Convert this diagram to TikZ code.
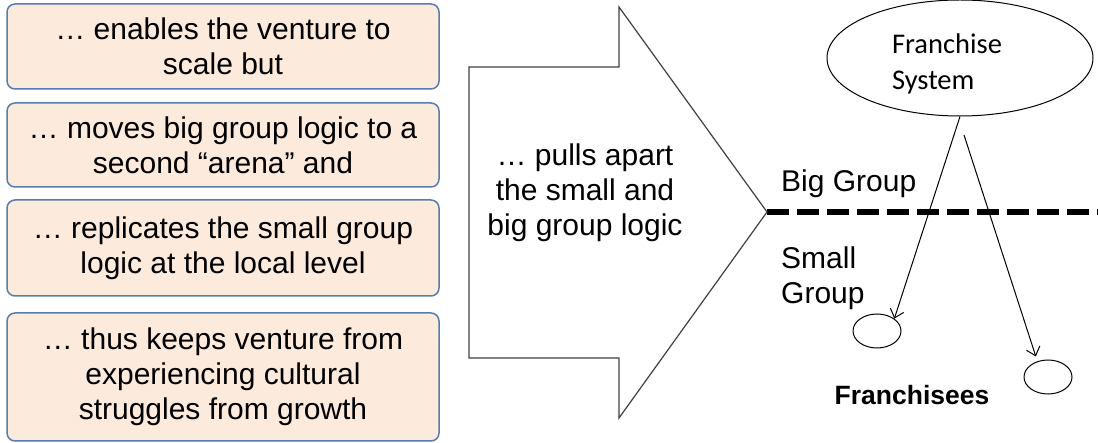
\documentclass[tikz,border=0pt]{standalone}
\usepackage{fontspec}
\setmainfont{Liberation Sans}
\newfontfamily\calibri{Carlito}
\usetikzlibrary{shapes.geometric,arrows.meta}
\definecolor{boxfill}{RGB}{252,234,220}
\definecolor{boxline}{RGB}{88,125,172}

\begin{document}
\begin{tikzpicture}[
    x = 1pt, y = -1pt,
    reason/.style = {draw = boxline, fill = boxfill, line width = 1.5pt,
        rounded corners = 8pt, minimum width = 432pt, inner sep = 0pt,
        align = center, font = \fontsize{30}{35}\selectfont},
    group label/.style = {inner sep = 0pt, align = left,
        font = \fontsize{30}{35}\selectfont},
    unit/.style = {draw, ellipse, line width = 1pt, minimum width = 48pt,
        minimum height = 34pt, inner sep = 0pt},
    split/.style = {line width = 6pt, dash pattern = on 22pt off 8pt},
    feed/.style = {line width = 1pt,
        -{Straight Barb[length = 8pt, width = 14pt]}}]

\useasboundingbox (0,0) rectangle (1098,443);

\node[reason, minimum height = 85pt] (scale) at (223,46.5)
    {… enables the venture to\\scale but};
\node[reason, minimum height = 84pt] (arena) at (223,145)
    {… moves big group logic to a\\second “arena” and};
\node[reason, minimum height = 96pt] (local) at (223,248)
    {… replicates the small group\\logic at the local level};
\node[reason, minimum height = 128pt] (growth) at (223,377)
    {… thus keeps venture from\\experiencing cultural\\struggles from growth};

\coordinate (tip) at (767,212);
\coordinate (edge) at (1098,212);
\draw[split] (tip) -- (edge);
\draw[line width = 1.2pt, black!75, fill = white] (469,67) -- (619,67) -- (619,7) --
    (tip) -- (619,418) -- (619,358) -- (469,358) -- cycle;
\node[align = center, inner sep = 0pt, font = \fontsize{30}{35}\selectfont]
    (pull) at (585,193) {… pulls apart\\the small and\\big group logic};

\node[draw, ellipse, line width = 1pt, minimum width = 266pt,
    minimum height = 116pt, inner sep = 0pt] (system) at (960,58) {};
\node[align = left, inner sep = 0pt, font = \calibri\fontsize{28.5}{36}\selectfont]
    (systemname) at (947,64) {Franchise\\System};

\node[group label, anchor = base west] (big) at (781,192) {Big Group};
\node[group label, anchor = west] (small) at (781,278) {Small\\Group};

\node[unit] (fr1) at (877,331) {};
\node[unit] (fr2) at (1048,377) {};
\coordinate (fork) at (964,135);
\draw[feed] (system.south) -- (fr1.north east);
\draw[feed, shorten > = 5pt] (fork) -- (fr2.124);

\node[inner sep = 0pt, anchor = base, font = \bfseries\fontsize{26.5}{30}\selectfont]
    (franchisees) at (912,405) {Franchisees};
\end{tikzpicture}
\end{document}
